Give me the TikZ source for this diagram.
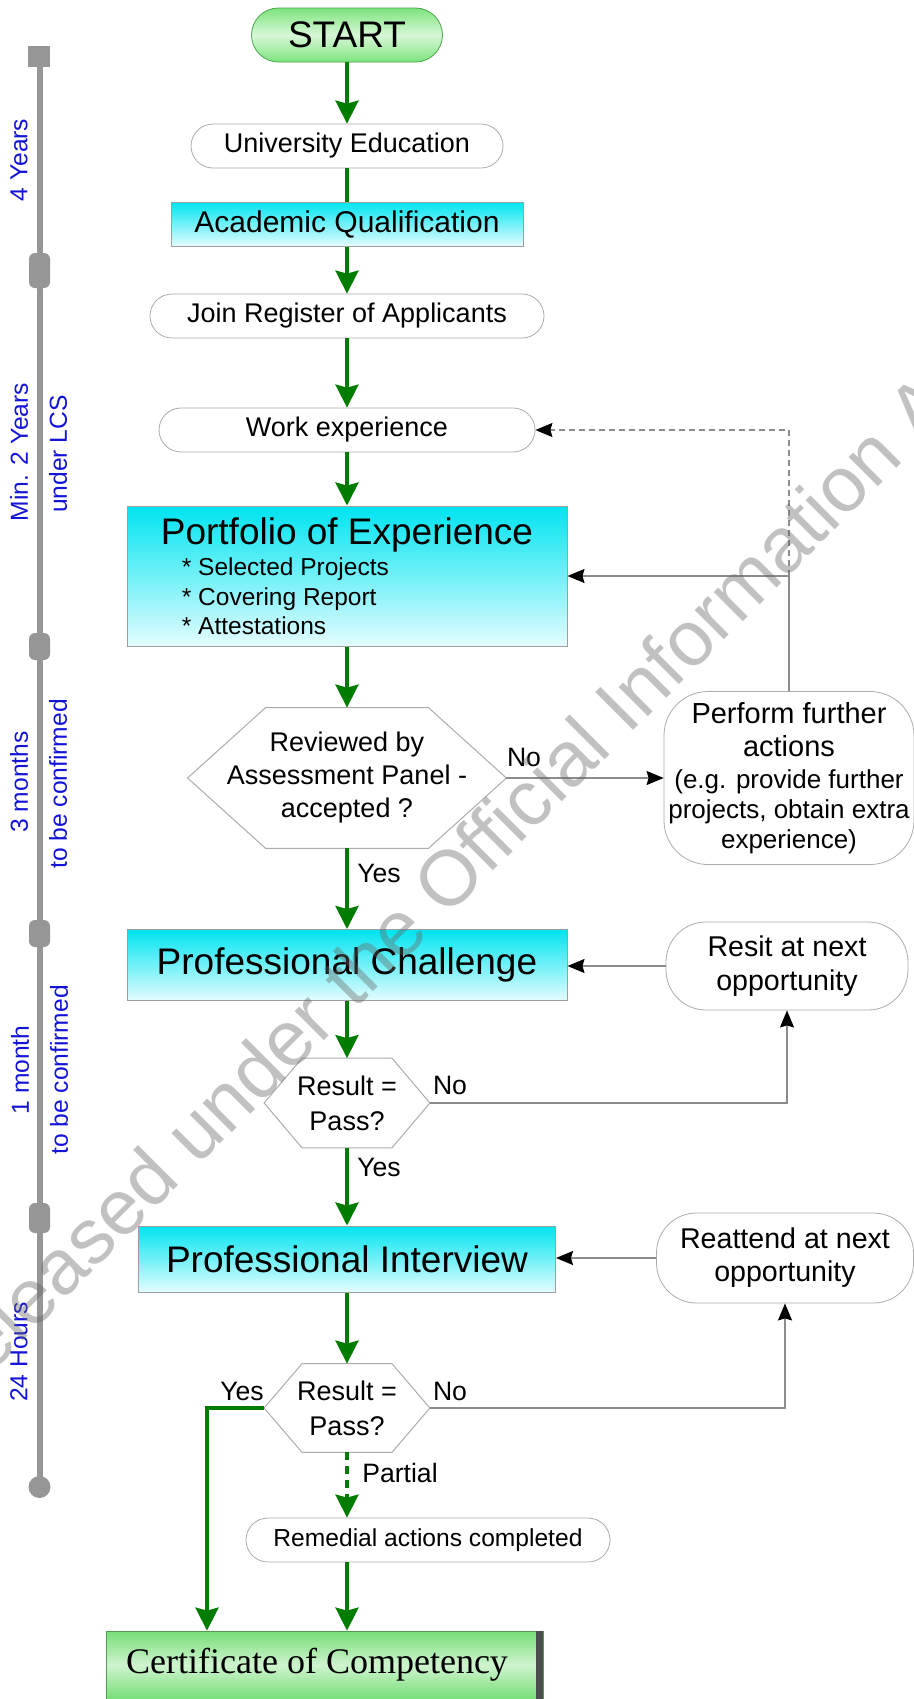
\documentclass[tikz,border=0pt]{standalone}
\usepackage{fontspec}
\setmainfont{Liberation Sans}
\newfontfamily\certfont{Liberation Serif}
\usetikzlibrary{arrows.meta,shadings}

\definecolor{flowgreen}{RGB}{0,125,0}
\definecolor{boxcyan}{RGB}{0,228,240}
\definecolor{palecyan}{RGB}{228,253,255}
\definecolor{startgreen}{RGB}{125,228,125}
\definecolor{certgreen}{RGB}{118,222,118}
\definecolor{linegray}{RGB}{140,140,140}
\definecolor{barcol}{RGB}{150,150,150}
\definecolor{timeblue}{RGB}{20,20,215}

\tikzset{
  startbox/.style={rectangle, rounded corners=13.5pt, draw=flowgreen!70, thin,
    top color=startgreen, bottom color=startgreen, middle color=startgreen!30!white,
    minimum width=95.5pt, minimum height=27pt, inner sep=0pt,
    font=\fontsize{18.5}{22}\selectfont},
  softbox/.style={rectangle, rounded corners=11pt, draw=gray!65, line width=0.4pt,
    fill=white, minimum height=22pt, inner sep=0pt, align=center,
    font=\fontsize{13.5}{16.5}\selectfont},
  qualbox/.style={rectangle, draw=gray!75, line width=0.5pt,
    top color=boxcyan, bottom color=palecyan, inner sep=0pt},
  bigtext/.style={font=\fontsize{18.5}{22}\selectfont},
  decision/.style={rectangle, inner sep=0pt, align=center,
    font=\fontsize{13.5}{16.5}\selectfont},
  hexline/.style={draw=gray!65, line width=0.5pt},
  certbox/.style={rectangle, draw=certgreen!70!black, line width=0.4pt,
    top color=certgreen, bottom color=certgreen, middle color=certgreen!35!white,
    minimum width=218.5pt, minimum height=34pt, inner sep=0pt,
    font=\certfont\fontsize{18}{21}\selectfont},
  flow/.style={draw=flowgreen, line width=1.75pt,
    -{Stealth[length=11.5pt, width=11.5pt, inset=1.5pt]}},
  flowline/.style={draw=flowgreen, line width=1.75pt},
  back/.style={draw=linegray, line width=0.75pt,
    -{Stealth[black, length=8.5pt, width=7pt, inset=1pt]}},
  lbl/.style={inner sep=0pt, font=\fontsize{13.3}{16}\selectfont},
  span/.style={rotate=90, inner sep=0pt, text=timeblue,
    font=\fontsize{12.3}{15}\selectfont},
  stamp/.style={rotate=45, inner sep=0pt, text=black!60, text opacity=0.4,
    font=\fontsize{39}{42}\selectfont}
}

\begin{document}
\begin{tikzpicture}[x=0.5pt,y=-0.5pt]
  \fill[white] (0,0) rectangle (914,1699);
  \useasboundingbox (0,0) rectangle (914,1699);

  % time line
  \draw[barcol, line width=3pt] (39.5,47) -- (39.5,1487);
  \fill[barcol] (28,46) rectangle (50,67);
  \foreach \ya/\yb in {253/288,633/660,920/947,1203/1233}
    \fill[barcol, rounded corners=3pt] (29,\ya) rectangle (50,\yb);
  \fill[barcol] (39.5,1487) circle (5.5pt);
  \node[span] (t1) at (19,160) {4 Years};
  \node[span] (t2) at (19,452) {Min. 2 Years};
  \node[span] (t2b) at (58,454) {under LCS};
  \node[span] (t3) at (19,782) {3 months};
  \node[span] (t3b) at (58,784) {to be confirmed};
  \node[span] (t4) at (20,1070) {1 month};
  \node[span] (t4b) at (59,1070) {to be confirmed};
  \node[span] (t5) at (19,1352) {24 Hours};

  % main column
  \node[startbox] (start) at (347,35) {START};
  \node[softbox, minimum width=156pt] (uni) at (347,146) {University Education};
  \node[qualbox, minimum width=176pt, minimum height=22pt,
    font=\fontsize{15}{18}\selectfont] (acad) at (347,224) {Academic Qualification};
  \node[softbox, minimum width=197pt] (join) at (347,316) {Join Register of Applicants};
  \node[softbox, minimum width=188pt] (work) at (347,430) {Work experience};
  \node[qualbox, minimum width=220pt, minimum height=70pt, align=left,
    font=\fontsize{12.25}{14.75}\selectfont] (port) at (347,576)
    {{\fontsize{18.5}{22}\selectfont Portfolio of Experience}\\[1pt]
     \hspace*{10.5pt}* Selected Projects\\
     \hspace*{10.5pt}* Covering Report\\
     \hspace*{10.5pt}* Attestations};
  \node[decision, minimum width=159pt, minimum height=70pt] (rev) at (347,778)
    {Reviewed by\\Assessment Panel -\\accepted ?};
  \node[softbox, rounded corners=22pt, minimum width=125pt, minimum height=86.5pt,
    font=\fontsize{13}{15}\selectfont] (perf) at (789,778)
    {{\fontsize{14.5}{17}\selectfont Perform further}\\[1.5pt]
     {\fontsize{14.5}{17}\selectfont actions}\\[1pt]
     (e.g. provide further\\projects, obtain extra\\experience)};
  \node[qualbox, minimum width=220pt, minimum height=35.5pt, bigtext] (chal)
    at (347,965) {Professional Challenge};
  \node[softbox, rounded corners=20pt, minimum width=121pt, minimum height=44pt,
    font=\fontsize{14.3}{17}\selectfont] (resit) at (787,966)
    {Resit at next\\opportunity};
  \node[decision, minimum width=82.5pt, minimum height=44.5pt,
    font=\fontsize{13.5}{17.5}\selectfont] (res1) at (347,1103) {Result =\\Pass?};
  \node[qualbox, minimum width=208.5pt, minimum height=33pt, bigtext] (intv)
    at (347,1259) {Professional Interview};
  \node[softbox, rounded corners=20pt, minimum width=128.5pt, minimum height=45pt,
    font=\fontsize{14.3}{16.5}\selectfont] (reat) at (785,1258)
    {Reattend at next\\opportunity};
  \node[decision, minimum width=82.5pt, minimum height=44pt,
    font=\fontsize{13.5}{17.5}\selectfont] (res2) at (347,1408) {Result =\\Pass?};
  \node[softbox, minimum width=182pt, font=\fontsize{12.3}{15}\selectfont] (rem)
    at (428,1540) {Remedial actions completed};
  \node[certbox] (cert) at (324.5,1665) {Certificate of Competency\hspace*{7.5pt}};
  \fill[gray!60!black] ([xshift=-3.5pt]cert.north east) rectangle (cert.south east);

  % hexagon outlines
  \foreach \n/\d in {rev/39pt,res1/19pt,res2/19pt}
    \draw[hexline] (\n.west) -- ([xshift=\d]\n.north west) -- ([xshift=-\d]\n.north east)
      -- (\n.east) -- ([xshift=-\d]\n.south east) -- ([xshift=\d]\n.south west) -- cycle;

  % green flow
  \draw[flow] (start) -- (uni);
  \draw[flowline] (uni) -- (acad);
  \draw[flow] (acad) -- (join);
  \draw[flow] (join) -- (work);
  \draw[flow] (work) -- (port);
  \draw[flow] (port) -- (rev);
  \draw[flow] (rev) -- (chal);
  \draw[flow] (chal) -- (res1);
  \draw[flow] (res1) -- (intv);
  \draw[flow] (intv) -- (res2);
  \draw[flow, dash pattern=on 4pt off 3pt] (res2) -- (res2 |- rem.north);
  \draw[flow] (rem.south -| res2) -- (cert.north -| res2);
  \coordinate (yesturn) at (207,1408);
  \draw[flow] (res2.west) -- (yesturn) -- (yesturn |- cert.north);

  % way back
  \draw[back] (rev.east) -- (perf.west);
  \coordinate (loop) at (perf.north |- port.east);
  \draw[back] (perf.north) -- (loop) -- (port.east);
  \draw[back, dash pattern=on 3pt off 2pt] (loop) |- (work.east);
  \draw[back] (resit.west) -- (resit.west -| chal.east);
  \draw[back] (res1.east) -| (resit.south);
  \draw[back] (reat.west) -- (reat.west -| intv.east);
  \draw[back] (res2.east) -| (reat.south);

  % labels
  \node[lbl] (no1) at (524,757) {No};
  \node[lbl] (yes1) at (379,873) {Yes};
  \node[lbl] (no2) at (450,1085) {No};
  \node[lbl] (yes2) at (379,1167) {Yes};
  \node[lbl] (no3) at (450,1391) {No};
  \node[lbl] (yes3) at (242,1391) {Yes};
  \node[lbl] (part) at (400,1473) {Partial};

  \node[stamp] (wm) at (455,870) {Released under the Official Information Act};
\end{tikzpicture}
\end{document}
